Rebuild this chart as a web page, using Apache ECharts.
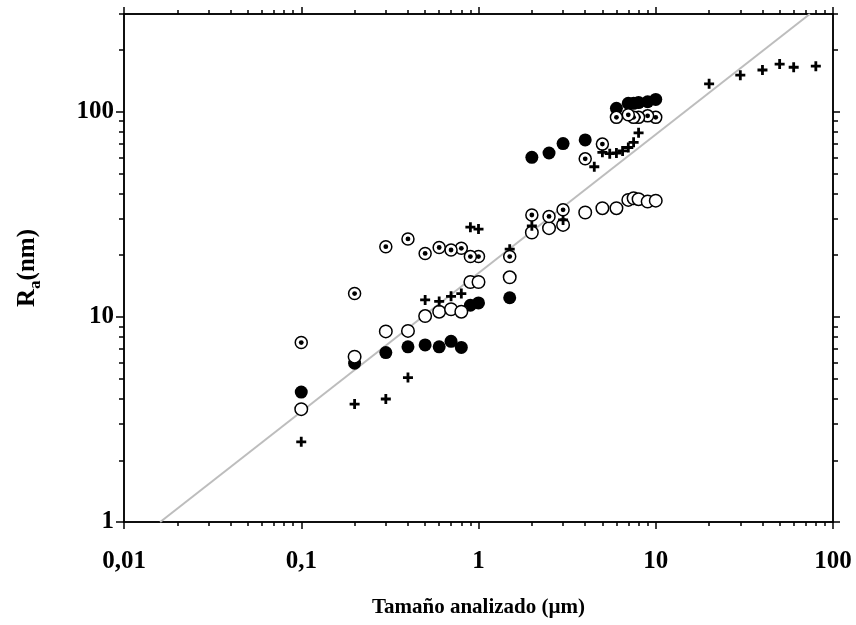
<!DOCTYPE html>
<html><head><meta charset="utf-8">
<script src="https://cdn.jsdelivr.net/npm/echarts@6/dist/echarts.min.js"></script>
<style>html,body{margin:0;padding:0;background:#fff}#c{width:856px;height:625px}</style>
</head><body><div id="c"></div>
<script>
// ---- data ----
const xMajorTicks = [0.01, 0.1, 1, 10, 100];
const xMinorTicks = [0.02,0.03,0.04,0.05,0.06,0.07,0.08,0.09,
                     0.2,0.3,0.4,0.5,0.6,0.7,0.8,0.9,
                     2,3,4,5,6,7,8,9,
                     20,30,40,50,60,70,80,90];
const yMajorTicks = [1, 10, 100];
const yMinorTicks = [2,3,4,5,6,7,8,9,20,30,40,50,60,70,80,90,200,300];

const filledCircles = [[0.1,4.3],[0.2,5.95],[0.3,6.7],[0.4,7.15],[0.5,7.3],[0.6,7.15],[0.7,7.6],[0.8,7.1],
  [0.9,11.4],[1,11.7],[1.5,12.4],[2,60],[2.5,63],[3,70],[4,73],[6,104],[7,110],[7.5,110],[8,111],[9,112],[10,115]];
const openCircles = [[0.1,3.55],[0.2,6.4],[0.3,8.5],[0.4,8.55],[0.5,10.1],[0.6,10.6],[0.7,10.9],[0.8,10.6],
  [0.9,14.8],[1,14.8],[1.5,15.6],[2,25.8],[2.5,27.1],[3,28.1],[4,32.3],[5,33.9],[6,33.9],[7,37.2],[7.5,37.9],[8,37.5],[9,36.5],[10,36.9]];
const dottedCircles = [[0.1,7.5],[0.2,13.0],[0.3,22.0],[0.4,24.0],[0.5,20.4],[0.6,21.8],[0.7,21.2],[0.8,21.6],
  [0.9,19.7],[1,19.7],[1.5,19.7],[2,31.4],[2.5,30.9],[3,33.3],[4,59],[5,69.6],[6,94],[7,96.7],[7.5,94],[8,94],[9,95.6],[10,94]];
const crosses = [[0.1,2.46],[0.2,3.76],[0.3,3.98],[0.4,5.06],[0.5,12.1],[0.6,11.9],[0.7,12.6],[0.8,13.0],
  [0.9,27.4],[1,26.8],[1.5,21.4],[2,27.8],[3,29.7],[4.5,54],[5,63.5],[5.5,62.5],[6,63],[6.5,64.5],[7,67],[7.5,71],[8,79],
  [20,137],[30,151],[40,160],[50,171],[60,165],[80,167]];
const fitLine = [[0.016,1],[74,300]];

const xTitle = 'Tamaño analizado (µm)';
const yTitle = '{r|R}{s|a}{r|(nm)}';

// ---- chart ----
const FONT = "'Liberation Serif','Times New Roman',serif";
const black = '#000';
function fmt(v){ return String(v).replace('.', ','); }

function axisBase(kind, pos, ticks, len, withLabel) {
  const a = {
    type: 'log', logBase: 10, position: pos,
    axisLine: {show: true, onZero: false, lineStyle: {color: black, width: 1.5}},
    axisTick: {show: true, inside: false, customValues: ticks, length: len, lineStyle: {color: black, width: 1.5}},
    minorTick: {show: false}, splitLine: {show: false},
    axisLabel: {show: false}
  };
  if (kind === 'x') { a.min = 0.01; a.max = 100; } else { a.min = 1; a.max = 300; }
  if (withLabel) {
    a.axisLabel = {show: true, customValues: ticks, formatter: fmt, color: black,
      fontFamily: FONT, fontWeight: 'bold', fontSize: 25, margin: kind === 'x' ? 27 : 10};
  }
  return a;
}

const xAxes = [
  axisBase('x', 'bottom', xMajorTicks, 7, true),
  axisBase('x', 'bottom', xMinorTicks, 4, false),
  axisBase('x', 'top', xMajorTicks, 7, false),
  axisBase('x', 'top', xMinorTicks, 4, false)
];
xAxes[0].name = xTitle;
xAxes[0].nameLocation = 'middle';
xAxes[0].nameGap = 75;
xAxes[0].nameTextStyle = {fontFamily: FONT, fontWeight: 'bold', fontSize: 21, color: black};

const yAxes = [
  axisBase('y', 'left', yMajorTicks, 8, true),
  axisBase('y', 'left', yMinorTicks, 5, false),
  axisBase('y', 'right', yMajorTicks, 7, false),
  axisBase('y', 'right', yMinorTicks, 5, false)
];
yAxes[0].name = yTitle;
yAxes[0].nameLocation = 'middle';
yAxes[0].nameRotate = 90;
yAxes[0].nameGap = 84;
yAxes[0].nameTextStyle = {
  rich: {
    r: {fontFamily: FONT, fontWeight: 'bold', fontSize: 25, color: black, lineHeight: 25, verticalAlign: 'top'},
    s: {fontFamily: FONT, fontWeight: 'bold', fontSize: 17, color: black, lineHeight: 17, padding: [12,0,0,0], verticalAlign: 'top'}
  }
};

const option = {
  animation: false,
  backgroundColor: '#fff',
  grid: {left: 124, right: 23, top: 14, bottom: 103, containLabel: false},
  xAxis: xAxes,
  yAxis: yAxes,
  series: [
    {type: 'line', data: fitLine, symbol: 'none', silent: true, z: 1,
     lineStyle: {color: '#bdbdbd', width: 2}},
    {type: 'scatter', data: filledCircles, symbol: 'circle', symbolSize: 13, z: 2,
     itemStyle: {color: black, opacity: 1}},
    {type: 'scatter', data: openCircles, symbol: 'circle', symbolSize: 12.5, z: 3,
     itemStyle: {color: '#fff', borderColor: black, borderWidth: 1.5, opacity: 1}},
    {type: 'scatter', data: crosses, z: 4, symbolSize: 10,
     symbol: 'path://M3.6,0H6.4V3.6H10V6.4H6.4V10H3.6V6.4H0V3.6H3.6Z',
     itemStyle: {color: black, opacity: 1}},
    {type: 'custom', data: dottedCircles, z: 5,
     renderItem: function (params, api) {
       const x = api.value(0);
       const p = api.coord([x, api.value(1)]);
       return {type: 'group', children: [
         {type: 'circle', z2: -x * 10, shape: {cx: p[0], cy: p[1], r: 6},
          style: {fill: '#fff', stroke: black, lineWidth: 1.5}},
         {type: 'circle', z2: -x * 10 + 0.5, shape: {cx: p[0], cy: p[1], r: 2.4},
          style: {fill: black}}
       ]};
     }}
  ]
};
echarts.init(document.getElementById('c'), null, {renderer: 'canvas'}).setOption(option);
</script>
</body></html>
